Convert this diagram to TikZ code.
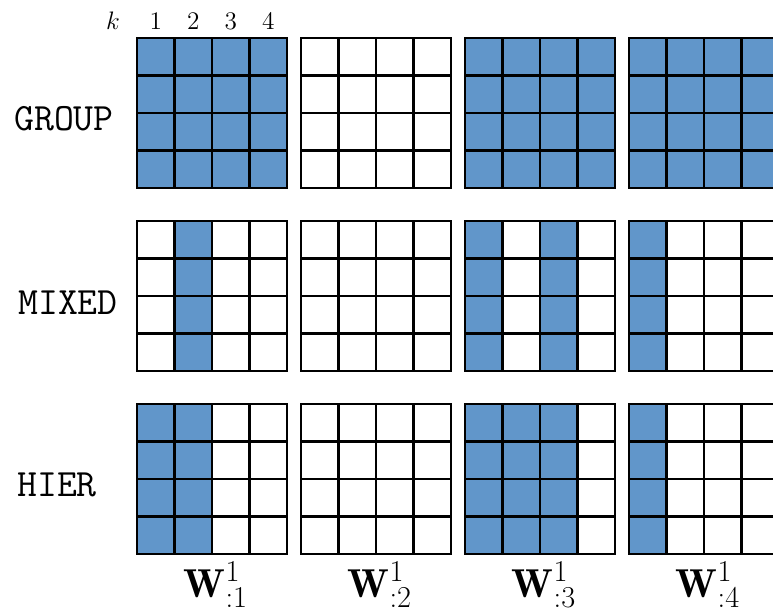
\documentclass[tikz,border=0pt]{standalone}
\usepackage{fontspec}
\usepackage{amsmath,bm}
\usepackage{xcolor}
\usepackage{tikz}
\definecolor{cellblue}{RGB}{97,150,202}

\begin{document}
\begin{tikzpicture}[x=0.02cm,y=-0.02cm,
  gridline/.style={line width=1.3pt,black},
  rowlabel/.style={font=\fontsize{22}{26}\selectfont\ttfamily},
  collabel/.style={font=\fontsize{15}{18}\selectfont,anchor=base},
  wlabel/.style={font=\fontsize{23}{27}\selectfont,anchor=base}]
  \useasboundingbox (0,0) rectangle (773,614);
  \clip (0,0) rectangle (773,614);
  % header k 1 2 3 4
  \node[collabel] (k) at (113,30) {$k$};
  \foreach \c in {1,...,4}
    \node[collabel] (col\c) at (118.25+37.5*\c,30) {$\c$};
  % row labels
  \node[rowlabel] (group) at (64,119) {GROUP};
  \node[rowlabel] (mixed) at (68,303) {MIXED};
  \node[rowlabel] (hier) at (57,485) {HIER};
  % filled columns, row/block/column
  \foreach \r/\b/\c in {0/0/1,0/0/2,0/0/3,0/0/4,0/2/1,0/2/2,0/2/3,0/2/4,0/3/1,0/3/2,0/3/3,0/3/4,
                        1/0/2,1/2/1,1/2/3,1/3/1,
                        2/0/1,2/0/2,2/2/1,2/2/2,2/2/3,2/3/1}
    \fill[cellblue] (99.5+164*\b+37.5*\c,38+183*\r) rectangle ++(37.5,150);
  % grids
  \foreach \r in {0,1,2}
    \foreach \b in {0,...,3} {
      \foreach \i in {1,2,3} {
        \draw[gridline] (137+164*\b+37.5*\i,38+183*\r) -- ++(0,150);
        \draw[gridline] (137+164*\b,38+183*\r+37.5*\i) -- ++(150,0);
      }
      \draw[gridline] (137+164*\b,38+183*\r) rectangle ++(150,150);
    }
  % matrix names
  \foreach \b in {1,...,4}
    \node[wlabel] (w\b) at (52+164*\b,597) {$\mathbf{W}^{1}_{:\b}$};
\end{tikzpicture}
\end{document}
